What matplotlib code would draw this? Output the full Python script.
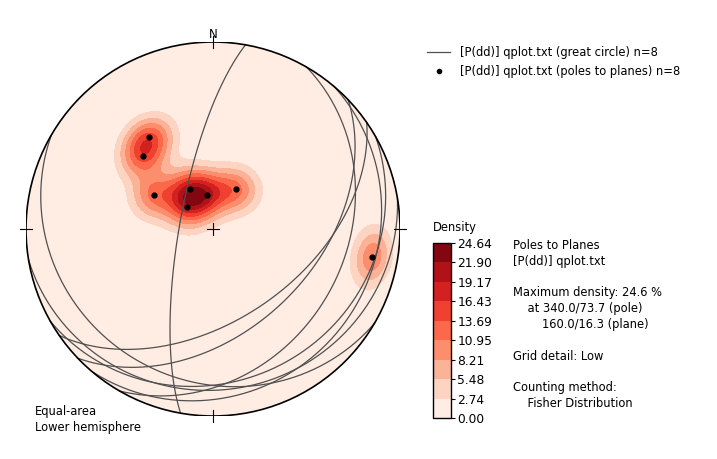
import numpy as np
import matplotlib.pyplot as plt
from matplotlib.patches import Circle
from matplotlib.lines import Line2D

# planes: dip direction / dip (degrees)
dip_dir = [145.3, 136.3, 120.0, 150.4, 170.5, 130.4, 210.3, 280.0]
dip = [50.0, 45.0, 30.0, 20.0, 15.0, 14.7, 20.0, 75.4]

# density contour levels (%) as on the colorbar
levels = [0.00, 2.74, 5.48, 8.21, 10.95, 13.69, 16.43, 19.17, 21.90, 24.64]
max_density = 24.64
kappa = 68.0

label_gc = '[P(dd)] qplot.txt (great circle) n=8'
label_poles = '[P(dd)] qplot.txt (poles to planes) n=8'
info = ('Poles to Planes\n[P(dd)] qplot.txt\n\n'
        'Maximum density: 24.6 %\n    at 340.0/73.7 (pole)\n        160.0/16.3 (plane)\n\n'
        'Grid detail: Low\n\nCounting method:\n    Fisher Distribution')


def vec(trend, plunge):
    t = np.radians(trend)
    p = np.radians(plunge)
    return np.array([np.cos(p)*np.cos(t), np.cos(p)*np.sin(t), np.sin(p)])


def proj(trend, plunge):
    # equal-area (Schmidt), lower hemisphere, primitive radius 1
    r = np.sqrt(2)*np.sin(np.radians(90-np.asarray(plunge))/2)
    t = np.radians(trend)
    return r*np.sin(t), r*np.cos(t)


def to_tp(v):
    n, e, d = v
    return np.degrees(np.arctan2(e, n)), np.degrees(np.arcsin(np.clip(d, -1, 1)))


pole_trend = [(d+180) % 360 for d in dip_dir]
pole_plunge = [90-d for d in dip]

fig = plt.figure(figsize=(7.17, 4.59), dpi=100)
ax = fig.add_axes([26/717, 43/459, 374/717, 374/459])
ax.set_xlim(-1, 1)
ax.set_ylim(-1, 1)
ax.set_aspect('equal')
ax.axis('off')

## density grid
xs = np.linspace(-1, 1, 260)
X, Y = np.meshgrid(xs, xs)
R = np.clip(np.hypot(X, Y), 0, 1)
theta = np.degrees(2*np.arcsin(R/np.sqrt(2)))
G = vec(np.degrees(np.arctan2(X, Y)), 90-theta)
dens = np.zeros_like(X)
for t, p in zip(pole_trend, pole_plunge):
    c = np.abs(np.tensordot(vec(t, p), G, axes=1))
    dens += np.exp(kappa*(c-1))
dens = dens/dens.max()*max_density*0.9999

prim = Circle((0, 0), 1, transform=ax.transData)
cf = ax.contourf(X, Y, dens, levels=levels, cmap='Reds')
cf.set_clip_path(prim)

## great circles
a = np.linspace(0, np.pi, 300)
for dd, d in zip(dip_dir, dip):
    s = vec(dd-90, 0)
    v = vec(dd, d)
    pts = np.outer(s, np.cos(a)) + np.outer(v, np.sin(a))
    gx, gy = proj(*to_tp(pts))
    ax.plot(gx, gy, color='#505050', lw=0.9)

## poles
px, py = proj(pole_trend, pole_plunge)
ax.plot(px, py, 'o', color='black', ms=3.5, zorder=5)

## primitive and ticks
ax.add_patch(Circle((0, 0), 1, fill=False, ec='black', lw=1.2, zorder=6))
c = 0.034
ax.plot([-c, c], [0, 0], color='black', lw=0.8)
ax.plot([0, 0], [-c, c], color='black', lw=0.8)
for x0, y0 in [(0, 1), (0, -1)]:
    ax.plot([x0, x0], [y0-c, y0+c], color='black', lw=0.8, clip_on=False)
for x0, y0 in [(1, 0), (-1, 0)]:
    ax.plot([x0-c, x0+c], [y0, y0], color='black', lw=0.8, clip_on=False)
ax.text(0, 1.005, 'N', ha='center', va='bottom', fontsize=8.5)

## legend
handles = [Line2D([], [], color='#505050', lw=0.9),
           Line2D([], [], ls='', marker='o', color='black', ms=3)]
fig.legend(handles, [label_gc, label_poles], loc='upper left',
           bbox_to_anchor=(427/717, 1-46/459), frameon=False, fontsize=8.3,
           borderpad=0, borderaxespad=0, handlelength=2.0, handletextpad=0.9,
           labelspacing=0.55)

## colorbar
cax = fig.add_axes([433/717, 41/459, 18/717, 175/459])
cb = fig.colorbar(cf, cax=cax, ticks=levels)
cb.ax.set_yticklabels(['%.2f' % l for l in levels], fontsize=8.8)
cb.ax.tick_params(length=3, pad=1.5)
cb.outline.set_linewidth(1)
fig.text(433/717, 1-227/459, 'Density', va='center', ha='left', fontsize=8.3)

fig.text(513/717, 1-239/459, info, va='top', ha='left', fontsize=8.3, linespacing=1.28)
fig.text(35/717, 1-405/459, 'Equal-area\nLower hemisphere', va='top', ha='left',
         fontsize=8.3, linespacing=1.3)

fig.savefig('out.png', dpi=100)
